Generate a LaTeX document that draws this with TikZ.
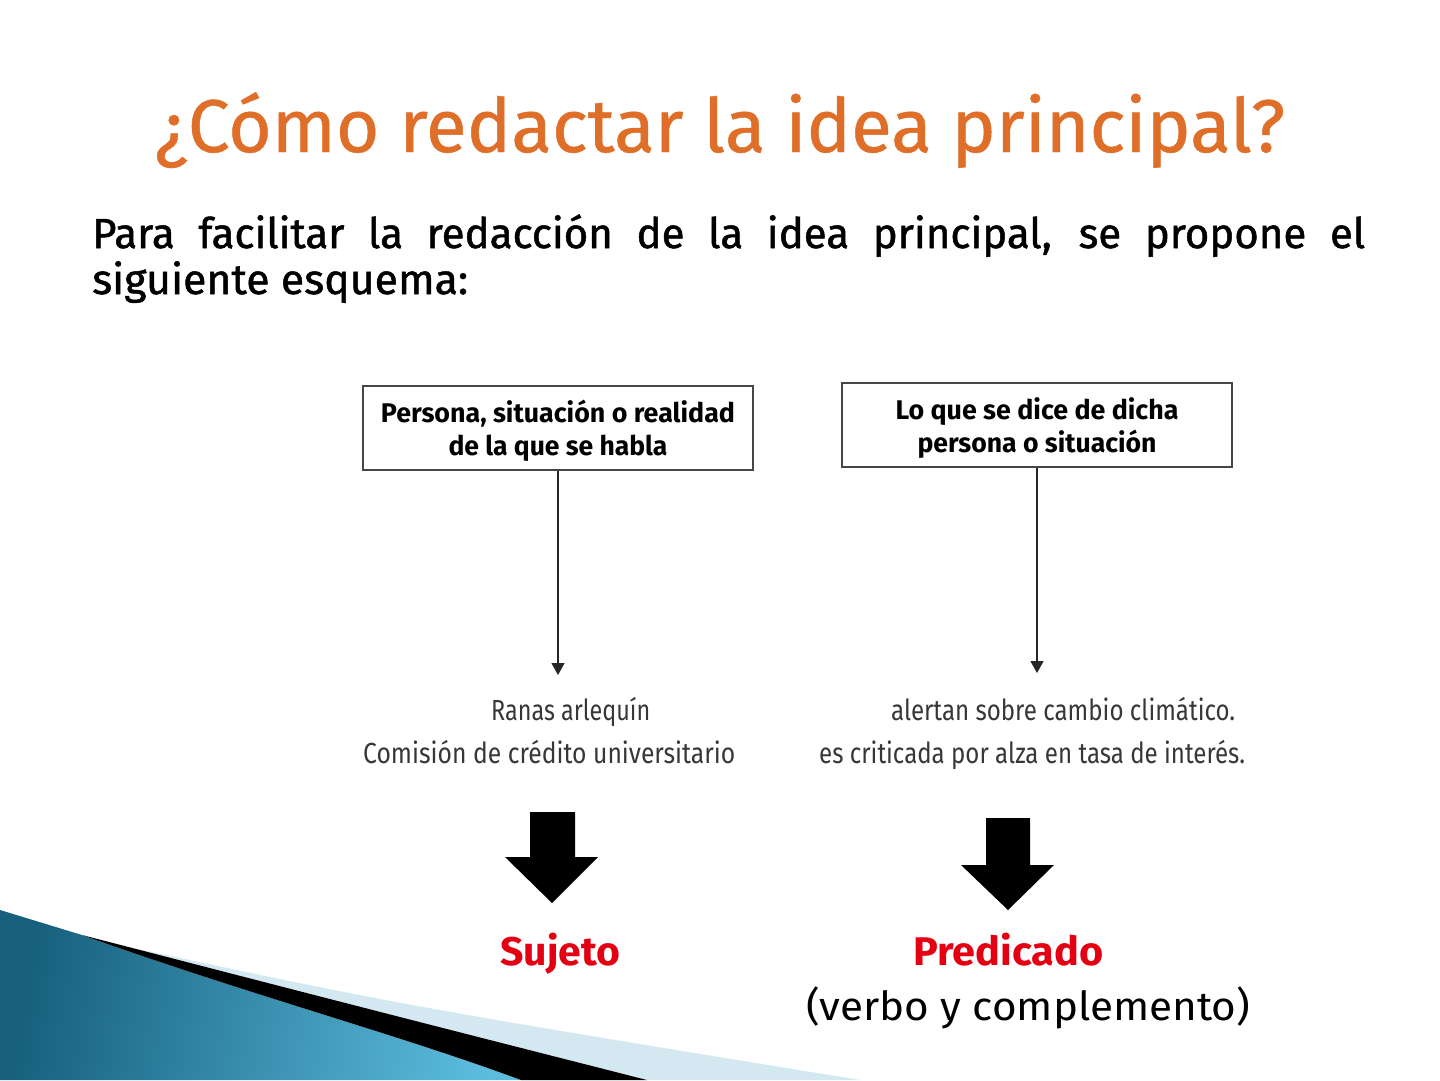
\documentclass[tikz,border=0pt]{standalone}
\usepackage{fontspec}
\setmainfont{Fira Sans}
\newfontfamily\bodyfont{Fira Sans}[FakeBold=1.2]
\newfontfamily\titlefont{Fira Sans}[FakeBold=0.6]
\usetikzlibrary{arrows.meta}
\definecolor{titleor}{RGB}{223,110,40}
\definecolor{sred}{RGB}{228,0,18}
\definecolor{exgray}{RGB}{55,55,55}
\definecolor{boxline}{RGB}{70,70,70}
\definecolor{tealA}{RGB}{22,96,125}
\definecolor{tealB}{RGB}{92,188,222}
\definecolor{lightband}{RGB}{212,232,242}
\newcommand{\fitw}[2]{\resizebox{#1}{\height}{#2}}
\begin{document}
\begin{tikzpicture}[x=1pt,y=-1pt,
  lbl/.style={inner sep=0pt, anchor=base},
  boxnode/.style={draw=boxline, line width=1.3pt, minimum width=390pt, minimum height=84pt, inner sep=0pt, text depth=0pt, align=center, font=\fontsize{27}{33}\selectfont\bfseries},
  exnode/.style={inner sep=0pt, anchor=base west, text=exgray, font=\fontsize{29}{34}\selectfont},
  thinarrow/.style={draw=black!85, line width=1.2pt, -{Triangle[width=13pt,length=12pt]}},
  bigarrow/.style={fill=black}]
\useasboundingbox (0,0) rectangle (1440,1080);
\fill[white] (0,0) rectangle (1440,1080);
% decoration
\shade[left color=tealA, right color=tealB, shading angle=80]
  (0,910) -- (82,935) .. controls (250,995) and (400,1035) .. (521,1080) -- (0,1080) -- cycle;
\fill[lightband] (110,943) .. controls (400,1005) .. (860,1080) -- (647,1080) .. controls (380,1012) .. (82,935) -- cycle;
\fill[black] (82,935) .. controls (380,1012) .. (647,1080) -- (521,1080) .. controls (400,1035) and (250,995) .. (82,935) -- cycle;
% title
\node[lbl] (title) at (720,152) {\resizebox{1130pt}{!}{\color{titleor}\titlefont\fontsize{72}{80}\selectfont ¿Cómo redactar la idea principal?}};
% body text
\node[lbl, anchor=base west] (p1) at (92,248) {\bodyfont\fontsize{42}{47}\selectfont\makebox[1273pt][s]{Para facilitar la redacción de la idea principal, se propone el}};
\node[lbl, anchor=base west] (p2) at (92,294) {\bodyfont\fontsize{42}{47}\selectfont\fitw{376pt}{siguiente esquema:}};
% boxes
\node[boxnode] (b1) at (558,428) {\fitw{354pt}{Persona, situación o realidad}\\\fitw{219pt}{de la que se habla}};
\node[boxnode] (b2) at (1037,425) {\fitw{283pt}{Lo que se dice de dicha}\\\fitw{239pt}{persona o situación}};
\coordinate (t1) at (558,675);
\coordinate (t2) at (1037,673);
\draw[thinarrow] (b1.south) -- (t1);
\draw[thinarrow] (b2.south) -- (t2);
% examples
\node[exnode] (e1) at (491,720) {\fitw{159pt}{Ranas arlequín}};
\node[exnode] (e2) at (363,763) {\fitw{372pt}{Comisión de crédito universitario}};
\node[exnode] (e3) at (891,720) {\fitw{344pt}{alertan sobre cambio climático.}};
\node[exnode] (e4) at (819,763) {\fitw{426pt}{es criticada por alza en tasa de interés.}};
% big arrows
\fill[bigarrow] (530,812) -- (575,812) -- (575,857) -- (598,857) -- (552,903) -- (505,857) -- (530,857) -- cycle;
\fill[bigarrow] (986,818) -- (1030,818) -- (1030,865) -- (1054,865) -- (1008,910) -- (961,865) -- (986,865) -- cycle;
% labels
\node[lbl, anchor=base west, text=sred, font=\fontsize{40}{46}\selectfont\bfseries] (suj) at (500,965) {\fitw{120pt}{Sujeto}};
\node[lbl, anchor=base west, text=sred, font=\fontsize{40}{46}\selectfont\bfseries] (pred) at (913,965) {\fitw{190pt}{Predicado}};
\node[lbl, anchor=base west, font=\fontsize{40}{46}\selectfont] (vc) at (806,1020) {\fitw{444pt}{(verbo y complemento)}};
\end{tikzpicture}
\end{document}
